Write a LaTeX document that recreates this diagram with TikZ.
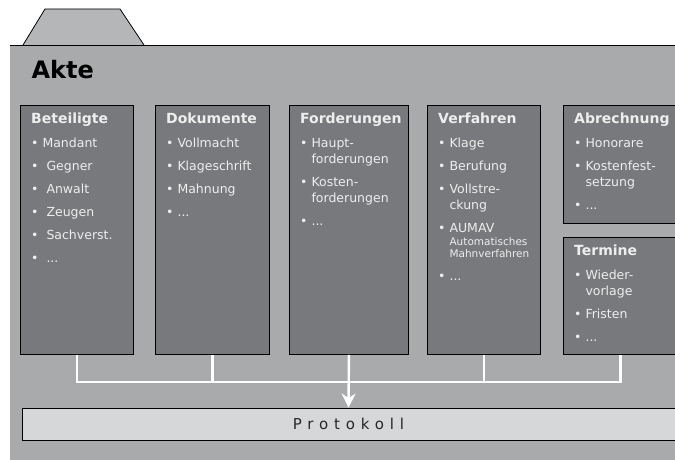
\documentclass[tikz,border=0pt]{standalone}
\usepackage{fontspec}
\setmainfont{DejaVu Sans}
\usepackage{tikz}
\usetikzlibrary{positioning, arrows.meta}
\usepackage{xcolor}
\definecolor{akteGrau}{HTML}{A9AAAC}
\definecolor{akteReiter}{HTML}{B5B6B8}
\definecolor{akteKasten}{HTML}{78797C}
\definecolor{akteSchrift}{HTML}{EEEEEE}
\definecolor{akteProtokoll}{HTML}{D6D7D9}

\newcommand{\titel}{\bfseries\fontsize{14}{16}\selectfont}
\newcommand{\klein}{\fontsize{10.5}{12}\selectfont}
\newcommand{\pkt}{•\ }
\newcommand{\einr}{\phantom{•\ }}

\tikzset{
  kasten/.style={draw=black, fill=akteKasten, line width=0.9pt, anchor=north west, inner sep=0pt},
  inhalt/.style={anchor=north west, inner sep=0pt, align=left, text=akteSchrift, font=\fontsize{12.5}{16}\selectfont},
  leitung/.style={draw=white, line width=2.4pt},
  protokoll/.style={draw=black, fill=akteProtokoll, line width=0.9pt, minimum width=653pt, minimum height=32pt, inner sep=0pt,
    font=\fontsize{15}{18}\selectfont\addfontfeature{LetterSpace=39}, text=black!85}
}

\begin{document}
\begin{tikzpicture}[x=1pt, y=-1pt, font=\fontsize{12.5}{16}\selectfont]
  \useasboundingbox (0,0) rectangle (675,460);
  % Akte mit Reiter
  \fill[akteGrau] (10,45) rectangle (675,460);
  \filldraw[fill=akteReiter, draw=black, line width=0.8pt] (23,45) -- (45,9) -- (120,9) -- (144,45);
  \draw[black, line width=0.8pt] (10,45) -- (675,45);
  \node[anchor=base west, font=\bfseries\fontsize{24}{28}\selectfont] (akte) at (28,79) {Akte};
  % Kaesten (Name, Position, Breite, Hoehe, Inhalt)
  \foreach \name/\x/\y/\w/\h/\inhalt in {%
    bet/20/105/113/249/{{\titel Beteiligte}\\[8pt]\pkt Mandant\\[7pt]\pkt\ Gegner\\[7pt]\pkt\ Anwalt\\[7pt]\pkt\ Zeugen\\[7pt]\pkt\ Sachverst.\\[7pt]\pkt\ ...},
    dok/155/105/114/249/{{\titel Dokumente}\\[8pt]\pkt Vollmacht\\[7pt]\pkt Klageschrift\\[7pt]\pkt Mahnung\\[7pt]\pkt ...},
    for/289/105/119/249/{{\titel Forderungen}\\[8pt]\pkt Haupt-\\\einr forderungen\\[7pt]\pkt Kosten-\\\einr forderungen\\[7pt]\pkt ...},
    ver/427/105/113/249/{{\titel Verfahren}\\[8pt]\pkt Klage\\[7pt]\pkt Berufung\\[7pt]\pkt Vollstre-\\\einr ckung\\[7pt]\pkt AUMAV\\[-3pt]\einr{\klein Automatisches}\\[-4pt]\einr{\klein Mahnverfahren}\\[7pt]\pkt ...},
    abr/563/105/114/118/{{\titel Abrechnung}\\[8pt]\pkt Honorare\\[7pt]\pkt Kostenfest-\\\einr setzung\\[7pt]\pkt ...},
    ter/563/237/114/117/{{\titel Termine}\\[8pt]\pkt Wieder-\\\einr vorlage\\[7pt]\pkt Fristen\\[7pt]\pkt ...}%
  } {
    \node[kasten, minimum width=\w pt, minimum height=\h pt] (\name) at (\x,\y) {};
    \node[inhalt] at ([xshift=11pt, yshift=-7.5pt]\name.north west) {\inhalt};
  }
  % Protokoll und Verbindungen
  \node[protokoll] (prot) at (348.5,424) {Protokoll};
  \path (for.south) ++(0,27) coordinate (mitte);
  \draw[leitung] (bet.south) |- (mitte) -| (ter.south);
  \foreach \n in {dok, ver}
    \draw[leitung] (\n.south) -- (\n.south |- mitte);
  \draw[leitung, -{Stealth[length=14pt, width=14pt]}] (for.south) -- (prot.north);
\end{tikzpicture}
\end{document}
